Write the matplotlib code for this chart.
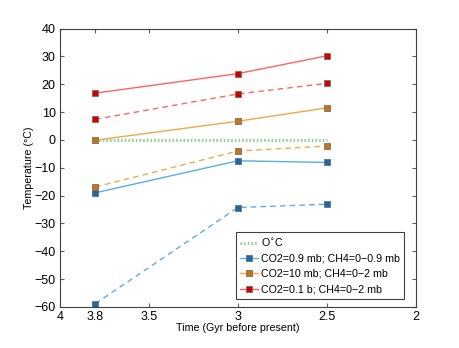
import numpy as np
import matplotlib
matplotlib.use("Agg")
import matplotlib.pyplot as plt

plt.rcParams['font.family'] = ['Liberation Sans', 'DejaVu Sans']

# time points (Gyr before present)
time_gyr = [3.8, 3.0, 2.5]

# temperatures (C); solid = with CH4 upper bound, dashed = no CH4
co2_09_ch4 = [-19.0, -7.5, -8.1]
co2_09_noch4 = [-58.8, -24.3, -23.1]
co2_10_ch4 = [-0.1, 6.7, 11.5]
co2_10_noch4 = [-16.9, -4.0, -2.2]
co2_01b_ch4 = [16.8, 23.8, 30.2]
co2_01b_noch4 = [7.4, 16.5, 20.3]
zero_line = [0, 0, 0]

labels = ["O$^{\\circ}$C", "CO2=0.9 mb; CH4=0\u22120.9 mb",
          "CO2=10 mb; CH4=0\u22122 mb", "CO2=0.1 b; CH4=0\u22122 mb"]

xticks = [4, 3.8, 3.5, 3, 2.5, 2]
xticklabels = ["4", "3.8", "3.5", "3", "2.5", "2"]

blue_line, blue_mk = "#5aafe0", "#1a6aa8"
orange_line, orange_mk = "#f0a848", "#c87410"
red_line, red_mk = "#ff6464", "#d40000"
green = "#8ed08e"

fig = plt.figure(figsize=(4.6, 3.48), dpi=100)
ax = fig.add_axes([0.13, 0.118, 0.774, 0.80])

mk = dict(marker="s", markersize=4, markeredgecolor="#707070", markeredgewidth=0.6)

h0, = ax.plot(time_gyr, zero_line, color=green, linestyle=(0, (0.5, 0.7)), linewidth=2.2, label=labels[0])
h1, = ax.plot(time_gyr, co2_09_ch4, color=blue_line, lw=1, markerfacecolor=blue_mk, label=labels[1], **mk)
ax.plot(time_gyr, co2_09_noch4, color=blue_line, lw=1, ls=(0, (4, 3)), markerfacecolor=blue_mk, **mk)
h2, = ax.plot(time_gyr, co2_10_ch4, color=orange_line, lw=1, markerfacecolor=orange_mk, label=labels[2], **mk)
ax.plot(time_gyr, co2_10_noch4, color=orange_line, lw=1, ls=(0, (4, 3)), markerfacecolor=orange_mk, **mk)
h3, = ax.plot(time_gyr, co2_01b_ch4, color=red_line, lw=1, markerfacecolor=red_mk, label=labels[3], **mk)
ax.plot(time_gyr, co2_01b_noch4, color=red_line, lw=1, ls=(0, (4, 3)), markerfacecolor=red_mk, **mk)

ax.set_xlim(4, 2)
ax.set_ylim(-60, 40)
ax.set_xticks(xticks)
ax.set_xticklabels(xticklabels)
ax.set_yticks(np.arange(-60, 41, 10))
ax.tick_params(direction="in", top=True, right=True, labelsize=9, length=3, color="#606060", pad=3)
for s in ax.spines.values():
    s.set_color("#404040")
    s.set_linewidth(0.8)

ax.set_xlabel("Time (Gyr before present)", fontsize=7.7, labelpad=0)
ax.set_ylabel("Temperature (\u00b0C)", fontsize=7.7, labelpad=0)

leg = ax.legend(handles=[h0, h1, h2, h3], loc="lower right", bbox_to_anchor=(0.967, 0.03),
                fontsize=7.7, fancybox=False, framealpha=1, edgecolor="#404040",
                handlelength=1.6, handletextpad=0.3, borderpad=0.4, labelspacing=0.5,
                borderaxespad=0)
leg.get_frame().set_linewidth(0.8)

fig.savefig("out.png", dpi=100)
